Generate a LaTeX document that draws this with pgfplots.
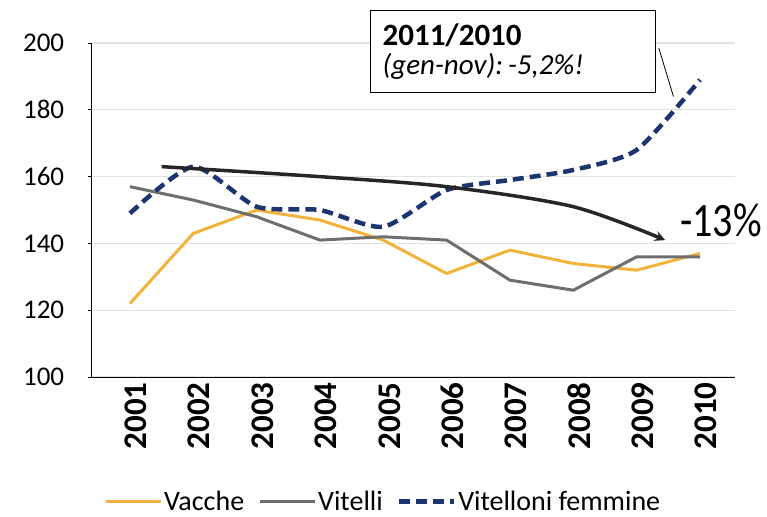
\documentclass[border=0pt]{standalone}
\usepackage{pgfplots}
\pgfplotsset{compat=1.18}
\usepackage{fontspec}
\setmainfont{Carlito}
\definecolor{vacche}{HTML}{F2B33D}
\definecolor{vitelli}{HTML}{6E6E6E}
\definecolor{vitfem}{HTML}{1C3470}
\definecolor{gridc}{HTML}{E2E2E2}
\begin{document}
\begin{tikzpicture}[x=1pt,y=1pt]
\begin{axis}[
  scale only axis, width=643pt, height=334pt,
  xmin=-0.6, xmax=9.55, ymin=100, ymax=200,
  ytick={100,120,...,200},
  xtick={0,...,9},
  xticklabels={2001,2002,2003,2004,2005,2006,2007,2008,2009,2010},
  xticklabel style={rotate=90, anchor=east, font=\fontsize{33}{34}\selectfont\bfseries, inner sep=1pt, yshift=-6pt},
  yticklabel style={font=\fontsize{27}{28}\selectfont, xshift=-20pt},
  /pgf/number format/assume math mode=true,
  ymajorgrids, grid style={gridc, line width=1.2pt},
  axis x line*=bottom, axis y line*=left,
  axis line style={black, line width=0.9pt},
  tick style={black, line width=0.8pt},
  ytick align=outside, xtick align=outside,
  extra x ticks={0.5,1.5,...,8.5}, extra x tick labels={},
  extra x tick style={major tick length=8pt, grid=none},
  xtick style={draw=none},
  clip=false,
  legend style={at={(0.453,-0.372)}, anchor=center, legend columns=-1, draw=none, fill=none,
    inner sep=0pt, font=\fontsize{28}{29}\selectfont, /tikz/every even column/.append style={column sep=12pt}},
  legend image code/.code={\draw[#1] (0pt,0pt) -- (55pt,0pt);},
]
\addplot[vacche, line width=3pt] coordinates {(0,122)(1,143)(2,150)(3,147)(4,141)(5,131)(6,138)(7,134)(8,132)(9,137)};
\addlegendentry{Vacche}
\addplot[vitelli, line width=3pt] coordinates {(0,157)(1,153)(2,148)(3,141)(4,142)(5,141)(6,129)(7,126)(8,136)(9,136)};
\addlegendentry{Vitelli}
\addplot[vitfem, line width=4.5pt, dash pattern=on 11pt off 6pt, smooth, tension=0.4] coordinates {(0,149)(1,163)(2,151)(3,150)(4,145)(5,156)(6,159)(7,162)(8,168)(9,189)};
\addlegendentry{Vitelloni femmine}
\addplot[black!85, line width=3.5pt, smooth, -stealth, forget plot] coordinates {(0.5,163)(3,160)(5,157)(7,151)(8.45,141)};
\node[font=\fontsize{40}{42}\selectfont, inner sep=0pt] at (axis cs:9.33,146.8) {\scalebox{1}[1.2]{-13\%}};
\draw[black, line width=0.8pt] (axis cs:8.35,198.5) -- (axis cs:8.58,184);
\node[draw=black, line width=1.2pt, fill=white, anchor=north west, align=left, inner xsep=12pt, inner ysep=0pt,
  minimum width=285pt, minimum height=82pt, text width=261pt]
  at (axis cs:3.79,210) {{\fontsize{31}{31}\selectfont\bfseries 2011/2010\par}{\fontsize{29}{29}\selectfont\itshape (gen-nov): -5,2\%!\par}};
\path (rel axis cs:-0.143,-0.419) rectangle (rel axis cs:1.050,1.129);
\end{axis}
\end{tikzpicture}
\end{document}
